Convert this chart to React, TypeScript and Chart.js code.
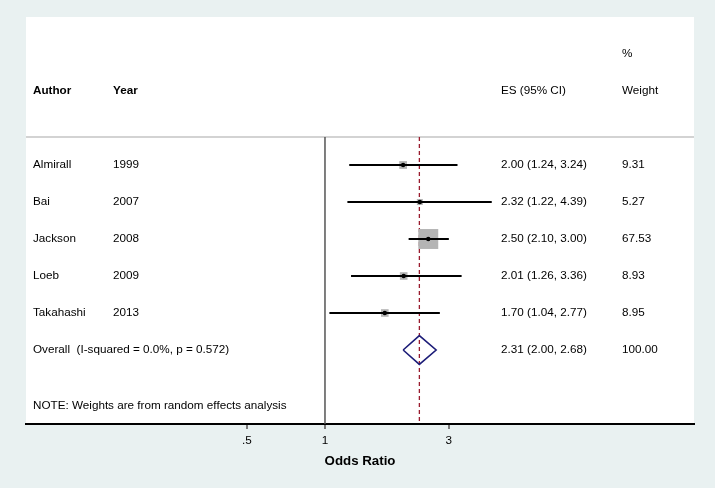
import React, { useEffect, useRef } from 'react';
import { Chart, registerables } from 'chart.js';

Chart.register(...registerables);

const authors = ['Almirall', 'Bai', 'Jackson', 'Loeb', 'Takahashi'];
const years = ['1999', '2007', '2008', '2009', '2013'];
const es = [2.0, 2.32, 2.5, 2.01, 1.7];
const ciLow = [1.24, 1.22, 2.1, 1.26, 1.04];
const ciHigh = [3.24, 4.39, 3.0, 3.36, 2.77];
const weights = [9.31, 5.27, 67.53, 8.93, 8.95];

const overallLabel = 'Overall  (I-squared = 0.0%, p = 0.572)';
const overallEs = [2.31];
const overallLow = [2.0];
const overallHigh = [2.68];
const overallWeight = ['100.00'];

const noteText = 'NOTE: Weights are from random effects analysis';
const tickValues = [0.5, 1, 3];
const tickLabels = ['.5', '1', '3'];
const axisTitle = 'Odds Ratio';

const X_MIN = 0.0705;
const X_MAX = 26.4;
const Y_MIN = -3;
const Y_MAX = 8;
const HEADER_LINE_Y = 0.243;
const OVERALL_ROW = authors.length + 1;
const NOTE_ROW = 7.5;

const FAMILY = '"Liberation Sans", Arial, Helvetica, sans-serif';
const FS = 11.7;

const fmt = (a: number, b: number, c: number) =>
  `${a.toFixed(2)} (${b.toFixed(2)}, ${c.toFixed(2)})`;

const textPlugin = {
  id: 'forestText',
  afterDraw(chart: any) {
    const ctx = chart.ctx;
    const y = chart.scales.y;
    const colAuthor = 33;
    const colYear = 113;
    const colEs = 501;
    const colW = 622;
    ctx.save();
    ctx.fillStyle = '#000';
    ctx.textBaseline = 'middle';
    ctx.textAlign = 'left';
    ctx.font = `bold ${FS}px ${FAMILY}`;
    ctx.fillText('Author', colAuthor, y.getPixelForValue(-1));
    ctx.fillText('Year', colYear, y.getPixelForValue(-1));
    ctx.font = `${FS}px ${FAMILY}`;
    ctx.fillText('ES (95% CI)', colEs, y.getPixelForValue(-1));
    ctx.fillText('Weight', colW, y.getPixelForValue(-1));
    ctx.fillText('%', colW, y.getPixelForValue(-2));
    authors.forEach((a, i) => {
      const py = y.getPixelForValue(i + 1);
      ctx.fillText(a, colAuthor, py);
      ctx.fillText(years[i], colYear, py);
      ctx.fillText(fmt(es[i], ciLow[i], ciHigh[i]), colEs, py);
      ctx.fillText(weights[i].toFixed(2), colW, py);
    });
    const po = y.getPixelForValue(OVERALL_ROW);
    ctx.fillText(overallLabel, colAuthor, po);
    ctx.fillText(fmt(overallEs[0], overallLow[0], overallHigh[0]), colEs, po);
    ctx.fillText(overallWeight[0], colW, po);
    ctx.fillText(noteText, colAuthor, y.getPixelForValue(NOTE_ROW));
    ctx.restore();
  },
};

export default function App() {
  const ref = useRef<HTMLCanvasElement>(null);
  useEffect(() => {
    if (!ref.current) return;
    const maxW = Math.max(...weights);
    const datasets: any[] = [];
    // point estimates
    datasets.push({
      data: es.map((v, i) => ({ x: v, y: i + 1 })),
      pointStyle: 'circle',
      pointRadius: 2.2,
      backgroundColor: '#000',
      borderWidth: 0,
      showLine: false,
      order: 0,
    });
    // CI lines
    es.forEach((_, i) => {
      datasets.push({
        data: [
          { x: ciLow[i], y: i + 1 },
          { x: ciHigh[i], y: i + 1 },
        ],
        showLine: true,
        borderColor: '#000',
        borderWidth: 2,
        pointRadius: 0,
        order: 1,
      });
    });
    // weight boxes
    datasets.push({
      data: es.map((v, i) => ({ x: v, y: i + 1 })),
      pointStyle: 'rect',
      pointRadius: weights.map((w) => 13.7 * Math.sqrt(w / maxW) + 0.4),
      backgroundColor: '#b4b4b4',
      borderWidth: 0,
      showLine: false,
      order: 2,
    });
    // overall diamond
    const h = 0.39;
    datasets.push({
      data: [
        { x: overallLow[0], y: OVERALL_ROW },
        { x: overallEs[0], y: OVERALL_ROW - h },
        { x: overallHigh[0], y: OVERALL_ROW },
        { x: overallEs[0], y: OVERALL_ROW + h },
        { x: overallLow[0], y: OVERALL_ROW },
      ],
      showLine: true,
      borderColor: '#1c1c78',
      borderWidth: 1.6,
      pointRadius: 0,
      tension: 0,
      order: 1,
    });
    // overall dashed line
    datasets.push({
      data: [
        { x: overallEs[0], y: HEADER_LINE_Y },
        { x: overallEs[0], y: Y_MAX },
      ],
      showLine: true,
      borderColor: '#9a1c2e',
      borderWidth: 1.3,
      borderDash: [4, 3],
      pointRadius: 0,
      order: 3,
    });
    // null line at 1
    datasets.push({
      data: [
        { x: 1, y: HEADER_LINE_Y },
        { x: 1, y: Y_MAX },
      ],
      showLine: true,
      borderColor: '#555',
      borderWidth: 1.5,
      pointRadius: 0,
      order: 4,
    });
    // header separator
    datasets.push({
      data: [
        { x: X_MIN, y: HEADER_LINE_Y },
        { x: X_MAX, y: HEADER_LINE_Y },
      ],
      showLine: true,
      borderColor: '#c4c4c4',
      borderWidth: 1.5,
      pointRadius: 0,
      order: 5,
    });

    const chart = new Chart(ref.current, {
      type: 'scatter',
      data: { datasets },
      options: {
        responsive: false,
        animation: false,
        events: [],
        layout: { padding: { left: 26, right: 21, top: 17, bottom: 0 } },
        plugins: { legend: { display: false }, tooltip: { enabled: false } },
        scales: {
          x: {
            type: 'logarithmic',
            min: X_MIN,
            max: X_MAX,
            position: 'bottom',
            afterBuildTicks: (s: any) => {
              s.ticks = tickValues.map((v) => ({ value: v }));
            },
            afterFit: (s: any) => {
              s.height = 64;
            },
            ticks: {
              autoSkip: false,
              maxRotation: 0,
              padding: 5,
              color: '#000',
              font: { family: FAMILY, size: FS },
              callback: (_v: any, i: number) => tickLabels[i],
            },
            grid: {
              display: true,
              drawOnChartArea: false,
              drawTicks: true,
              tickLength: 5,
              color: '#7a7a7a',
              lineWidth: 2,
            },
            border: { display: true, color: '#000', width: 2 },
            title: {
              display: true,
              text: axisTitle,
              color: '#000',
              font: { family: FAMILY, size: 13.3, weight: 'bold' },
              padding: { top: 0, bottom: 19 },
            },
          },
          y: {
            type: 'linear',
            min: Y_MIN,
            max: Y_MAX,
            reverse: true,
            display: false,
          },
        },
      },
      plugins: [
        {
          id: 'bgArea',
          beforeDraw(c: any) {
            const { ctx, chartArea } = c;
            ctx.save();
            ctx.fillStyle = '#ffffff';
            ctx.fillRect(chartArea.left, chartArea.top, chartArea.right - chartArea.left, chartArea.bottom - chartArea.top);
            ctx.restore();
          },
        },
        textPlugin,
      ],
    } as any);
    return () => chart.destroy();
  }, []);

  return (
    <div style={{ position: 'fixed', left: 0, top: 0, width: 715, height: 488, background: '#e9f1f1' }}>
      <canvas ref={ref} width={715} height={488} style={{ display: 'block', width: 715, height: 488 }} />
    </div>
  );
}
